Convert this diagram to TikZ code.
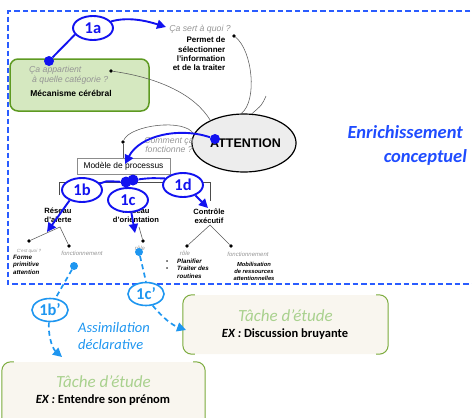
\documentclass[tikz,border=0pt]{standalone}
\usepackage{fontspec}
\setmainfont{Liberation Sans}
\newfontfamily\calfont{Carlito}
\usetikzlibrary{arrows.meta,shapes.geometric}
\definecolor{dblue}{HTML}{1212F0}
\definecolor{lblue}{HTML}{1E96F0}
\definecolor{fblue}{HTML}{2A5CFF}
\definecolor{enrich}{HTML}{1F4CFF}
\definecolor{gboxfill}{HTML}{D5E8C0}
\definecolor{gboxline}{HTML}{5E9A22}
\definecolor{tfill}{HTML}{F9F6EF}
\definecolor{tgreen}{HTML}{A9D18E}
\definecolor{tgreenline}{HTML}{7AAA3A}
\definecolor{qgray}{HTML}{959595}
\tikzset{
  lab/.style={ellipse, draw=dblue, line width=1.9pt, fill=white, text=dblue, font=\calfont\bfseries\fontsize{16.5}{16.5}\selectfont, minimum width=40pt, minimum height=24pt, inner sep=0pt},
  labl/.style={lab, draw=lblue, text=lblue, line width=1.6pt, minimum width=36pt, minimum height=23pt},
  qtext/.style={text=qgray, font=\itshape\fontsize{8.7}{9.8}\selectfont, align=center, inner sep=0pt},
  btext/.style={font=\bfseries\fontsize{8}{9.3}\selectfont, inner sep=0pt},
  rtext/.style={font=\bfseries\fontsize{7.6}{9}\selectfont, align=center, inner sep=0pt},
  stext/.style={text=qgray, font=\itshape\fontsize{6}{7}\selectfont, inner sep=0pt},
  bitext/.style={font=\bfseries\itshape\fontsize{6.2}{7.5}\selectfont, inner sep=0pt},
  kdot/.style={circle, fill=black, inner sep=0pt, minimum size=3.6pt},
  bdot/.style={circle, fill=dblue, inner sep=0pt, minimum size=11pt},
  adot/.style={circle, fill=dblue, inner sep=0pt, minimum size=10pt},
  ldot/.style={circle, fill=lblue, inner sep=0pt, minimum size=8pt},
  grayline/.style={draw=black!65, line width=0.55pt},
  barrow/.style={draw=dblue, line width=1.9pt, -{Triangle[length=9pt,width=9pt]}},
  bline/.style={draw=dblue, line width=1.9pt},
  ldash/.style={draw=lblue, line width=1.7pt, dash pattern=on 5pt off 3.5pt},
  larrow/.style={ldash, -{Triangle[length=9pt,width=9pt]}},
  tbox/.style={rectangle, fill=tfill, rounded corners=9pt, inner sep=0pt},
  tside/.style={draw=tgreenline, line width=1pt, rounded corners=9pt},
  ttitle/.style={text=tgreen, font=\calfont\itshape\fontsize{17}{17}\selectfont, inner sep=0pt, anchor=base},
  texline/.style={font=\calfont\bfseries\fontsize{12.5}{12.5}\selectfont, inner sep=0pt, anchor=base},
}
\begin{document}
\begin{tikzpicture}[x=1pt,y=-1pt]
\useasboundingbox (0,0) rectangle (472,418);
\clip (0,0) rectangle (472,418);

% dashed frame
\draw[fblue, line width=1.4pt, dash pattern=on 5.5pt off 3pt] (470,11) -- (8,11) -- (8,284) -- (474,284);

% task boxes
\node[tbox, minimum width=205pt, minimum height=59pt] (t1) at (285.5,324.5) {};
\draw[tside] ([xshift=12pt]t1.north west) -- (t1.north west) -- (t1.south west) -- ([xshift=12pt]t1.south west);
\draw[tside] ([xshift=-12pt]t1.north east) -- (t1.north east) -- (t1.south east) -- ([xshift=-12pt]t1.south east);
\node[ttitle] (t1t) at (285.5,321) {Tâche d’étude};
\node[texline] (t1e) at (285,337) {\textit{EX :} Discussion bruyante};

\node[tbox, minimum width=203pt, minimum height=70pt] (t2) at (103.5,397) {};
\draw[tside] ([xshift=12pt]t2.north west) -- (t2.north west) -- (t2.south west) -- ([xshift=12pt]t2.south west);
\draw[tside] ([xshift=-12pt]t2.north east) -- (t2.north east) -- (t2.south east) -- ([xshift=-12pt]t2.south east);
\node[ttitle] (t2t) at (103.5,387) {Tâche d’étude};
\node[texline] (t2e) at (103,403) {\textit{EX :} Entendre son prénom};

% green category box
\node[rectangle, rounded corners=8pt, fill=gboxfill, draw=gboxline, line width=1.5pt, minimum width=139pt, minimum height=52pt] (cat) at (79.5,85) {};
\node[qtext, align=left, anchor=west] (catq) at (29,75) {Ça appartient\\\hspace{3pt}à quelle catégorie ?};
\node[font=\bfseries\fontsize{8.5}{8.5}\selectfont, inner sep=0pt] (catm) at (71,93) {Mécanisme cérébral};
\node[kdot] (cd) at (111,71) {};

% ATTENTION
\node[ellipse, draw=black, line width=1.2pt, fill=black!7, minimum width=88pt, minimum height=58pt, inner sep=0pt, font=\bfseries\fontsize{12.5}{12.5}\selectfont] (att) at (244,143) {\hspace{3pt}ATTENTION};

% question texts
\node[qtext] (sq) at (200,29) {Ça sert à quoi ?};
\node[btext, align=right] (pm) at (199,54) {Permet de\\sélectionner\\l'information\\et de la traiter};
\node[kdot] (pd) at (234,36) {};
\coordinate (s1) at (266,96);
\node[qtext] (cf) at (169,145) {Comment ça\\fonctionne ?};
\node[kdot] (md) at (123,142) {};

% gray connectors
\draw[grayline] (cd) .. controls (160,78) and (195,95) .. (att.146);
\draw[grayline] (pd) .. controls (252,50) and (258,100) .. (att.95);
\draw[grayline] (att.75) .. controls (262,105) .. (s1);
\draw[grayline] (md) .. controls (130,125) and (185,118) .. (att.170);

% model box
\node[draw=black!45, fill=white, minimum width=93pt, minimum height=16pt, inner sep=0pt, font=\fontsize{8.4}{8.4}\selectfont] (mod) at (123.5,166) {Modèle de processus};
\draw[grayline] (md) -- (md |- mod.north);
\draw[black!70, line width=0.6pt] (59,195) -- (59,182) -- (210,182) -- (210,201);

% sub-network labels
\node[rtext] (ra) at (58,215) {Réseau\\d'alerte};
\node[rtext] (ro) at (136,215) {Réseau\\d'orientation};
\node[rtext] (ce) at (209,216) {Contrôle\\exécutif};

% trees
\coordinate (raA) at (60,227);
\node[kdot] (ra1) at (29,241) {};
\node[kdot] (ra2) at (69,246) {};
\draw[grayline] (ra1) -- (raA) -- (ra2);
\node[stext, font=\itshape\fontsize{4.6}{5}\selectfont] (raq) at (29,251) {C'est quoi ?};
\node[stext] (raf) at (82,253) {fonctionnement};
\node[bitext, align=left, anchor=north west] (raff) at (13,255) {Forme\\primitive\\attention};

\coordinate (roA) at (139,227);
\node[kdot] (ro1) at (143,241) {};
\draw[grayline] (roA) -- (ro1);
\node[stext] (ror) at (140,248) {rôle};

\coordinate (ceA) at (210,225);
\node[kdot] (ce1) at (187,246) {};
\node[kdot] (ce2) at (231,246) {};
\draw[grayline] (ce1) -- (ceA) -- (ce2);
\node[stext] (cer) at (185,253) {rôle};
\node[stext] (cef) at (248,254) {fonctionnement};
\node[bitext, align=left, anchor=north west] (cep) at (166,258.5) {\makebox[11pt][l]{\normalfont\fontsize{6}{6}\selectfont•}Planifier\\\makebox[11pt][l]{\normalfont\fontsize{6}{6}\selectfont•}Traiter des\\\hspace{11pt}routines};
\node[bitext, font=\bfseries\itshape\fontsize{5.8}{7}\selectfont, align=center] (cem) at (254,271) {Mobilisation\\de ressources\\attentionnelles};

% Enrichissement conceptuel
\node[text=enrich, font=\calfont\bfseries\itshape\fontsize{18.5}{18.5}\selectfont, inner sep=0pt, anchor=base east] (en1) at (463,138) {Enrichissement};
\node[text=enrich, font=\calfont\bfseries\itshape\fontsize{18.5}{18.5}\selectfont, inner sep=0pt, anchor=base east] (en2) at (467,162) {conceptuel};

% Assimilation declarative
\node[text=lblue, font=\calfont\itshape\fontsize{14.5}{14.5}\selectfont, inner sep=0pt, anchor=base west] (as1) at (78,332) {Assimilation};
\node[text=lblue, font=\calfont\itshape\fontsize{14.5}{14.5}\selectfont, inner sep=0pt, anchor=base west] (as2) at (78,349) {déclarative};

% blue 1a
\node[lab] (a1) at (93,28) {1a};
\node[adot] (gd) at (49,61) {};
\coordinate (tq) at (166,27);
\draw[bline] (gd) -- (a1.200);
\draw[barrow] (a1.20) .. controls (130,16) and (150,22) .. (tq);

% ATTENTION -> model
\node[adot] (ad) at (215,139) {};
\coordinate (tm) at (125,164);
\draw[barrow] (ad) .. controls (180,127) and (140,135) .. (tm);

% 1b 1c 1d
\node[lab] (b1) at (82,190) {1b};
\node[lab] (c1) at (128,200) {1c};
\node[lab] (d1) at (183,185) {1d};
\node[bdot] (bd1) at (126,182) {};
\node[bdot] (bd2) at (133,180) {};
\draw[bline] (b1.20) .. controls (105,181) .. (bd1);
\draw[bline] (bd2) .. controls (150,178) .. (d1.160);
\draw[bline] (bd1) -- (c1.north);
\coordinate (tb) at (47,232);
\coordinate (tc) at (135,233);
\coordinate (td) at (208,208);
\draw[barrow] (b1.220) -- (tb);
\draw[barrow] (c1.285) -- (tc);
\draw[barrow] (d1.-40) -- (td);

% light blue 1b' 1c'
\node[ldot] (ld1) at (74,266) {};
\node[ldot] (ld2) at (139,252) {};
\node[labl] (b2) at (50,310) {1b’};
\node[labl] (c2) at (146,294) {1c’};
\coordinate (tb2) at (62,357);
\coordinate (tc2) at (186,330);
\draw[ldash] (ld1) -- (b2.65);
\draw[ldash] (ld2) .. controls (143,268) .. (c2.north);
\draw[larrow] (b2.-95) .. controls (48,340) and (54,350) .. (tb2);
\draw[larrow] (c2.-60) .. controls (163,318) and (172,325) .. (tc2);
\end{tikzpicture}
\end{document}
